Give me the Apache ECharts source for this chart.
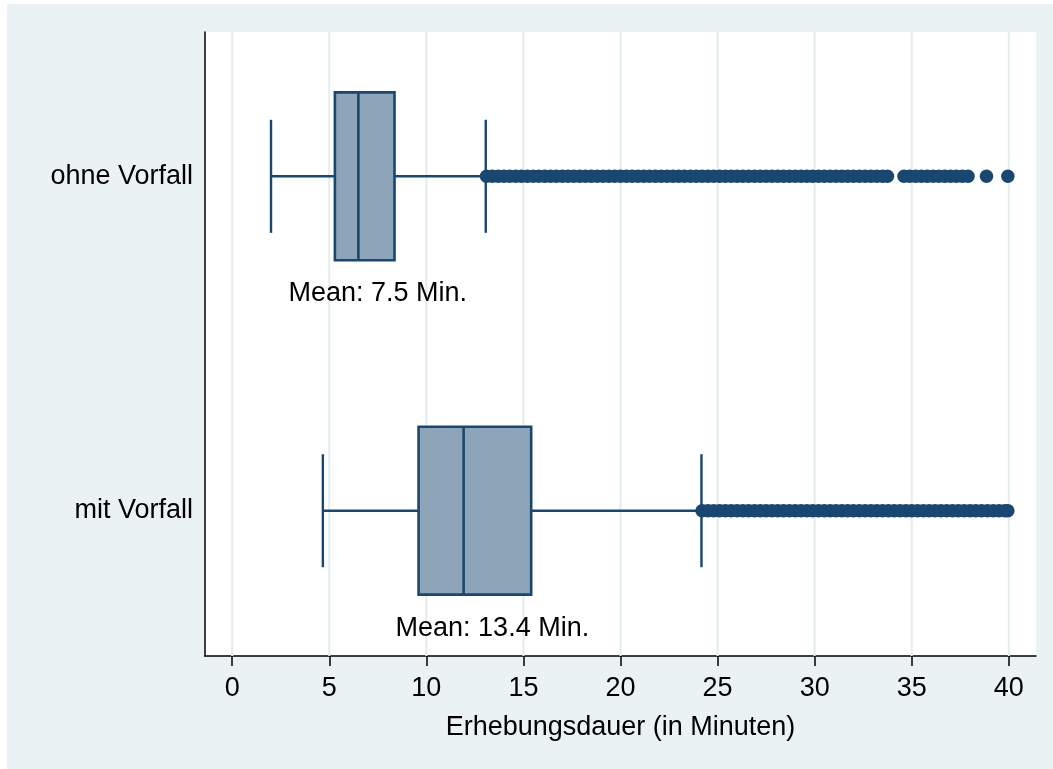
<!DOCTYPE html>
<html>
<head>
<meta charset="utf-8">
<script src="https://cdn.jsdelivr.net/npm/echarts@6/dist/echarts.min.js"></script>
<style>
  html, body { margin: 0; padding: 0; background: #ffffff; }
  #chart { position: absolute; left: 7px; top: 4px; width: 1046px; height: 765px; }
</style>
</head>
<body>
<div id="chart"></div>
<script>
// ---- data ----
const categories = ['mit Vorfall', 'ohne Vorfall'];   // y positions 1, 2
const catPos = [1, 2];
const whiskerLow  = [4.67, 2.0];
const q1          = [9.6, 5.29];
const median      = [11.92, 6.5];
const q3          = [15.4, 8.36];
const whiskerHigh = [24.17, 13.06];
const means       = [13.4, 7.5];
const meanLabels  = ['Mean: 13.4 Min.', 'Mean: 7.5 Min.'];
const xTicks = [0, 5, 10, 15, 20, 25, 30, 35, 40];
const xTitle = 'Erhebungsdauer (in Minuten)';

const ohneOutliers = [13.1, 13.4, 13.7, 14.0, 14.3, 14.6, 14.9, 15.2, 15.5, 15.8, 16.1, 16.4, 16.7, 17.0, 17.3, 17.6, 17.9, 18.2, 18.5, 18.8, 19.1, 19.4, 19.7, 20.0, 20.3, 20.6, 20.9, 21.2, 21.5, 21.8, 22.1, 22.4, 22.7, 23.0, 23.3, 23.6, 23.9, 24.2, 24.5, 24.8, 25.1, 25.4, 25.7, 26.0, 26.3, 26.6, 26.9, 27.2, 27.5, 27.8, 28.1, 28.4, 28.7, 29.0, 29.3, 29.6, 29.9, 30.2, 30.5, 30.8, 31.1, 31.4, 31.7, 32.0, 32.3, 32.6, 32.9, 33.2, 33.5, 33.75, 34.6, 34.9, 35.2, 35.5, 35.8, 36.1, 36.4, 36.7, 37.0, 37.3, 37.6, 37.9, 38.85, 39.95];
const mitOutliers = [24.2, 24.5, 24.8, 25.1, 25.4, 25.7, 26.0, 26.3, 26.6, 26.9, 27.2, 27.5, 27.8, 28.1, 28.4, 28.7, 29.0, 29.3, 29.6, 29.9, 30.2, 30.5, 30.8, 31.1, 31.4, 31.7, 32.0, 32.3, 32.6, 32.9, 33.2, 33.5, 33.8, 34.1, 34.4, 34.7, 35.0, 35.3, 35.6, 35.9, 36.2, 36.5, 36.8, 37.1, 37.4, 37.7, 38.0, 38.3, 38.6, 38.9, 39.2, 39.5, 39.8, 39.95];

// ---- build ----
const FONT = '"Liberation Sans", Arial, Helvetica, sans-serif';
const FS = 27;
const NAVY = '#1a476f';
const FILL = '#8ea4b8';

const boxData = catPos.map((p, i) => [p, whiskerLow[i], q1[i], median[i], q3[i], whiskerHigh[i], means[i], i]);
const outlierData = [];
ohneOutliers.forEach(v => outlierData.push([v, 2]));
mitOutliers.forEach(v => outlierData.push([v, 1]));
const gridData = xTicks.map(v => [v, 1.5]);

function renderGrid(params, api) {
  const p = api.coord([api.value(0), api.value(1)]);
  const cs = params.coordSys;
  return { type: 'line', shape: { x1: p[0], y1: cs.y, x2: p[0], y2: cs.y + cs.height },
    style: { stroke: '#e3edef', lineWidth: 2 }, silent: true };
}

function renderBox(params, api) {
  const y = api.value(0);
  const idx = api.value(7);
  const pWL = api.coord([api.value(1), y]);
  const pQ1 = api.coord([api.value(2), y]);
  const pMed = api.coord([api.value(3), y]);
  const pQ3 = api.coord([api.value(4), y]);
  const pWH = api.coord([api.value(5), y]);
  const halfBox = api.size([0, 0.251])[1];
  const halfCap = api.size([0, 0.169])[1];
  const pMeanLbl = api.coord([api.value(6), y - 0.352]);
  const cy = pQ1[1];
  const ls = { stroke: NAVY, lineWidth: 2.4 };
  return {
    type: 'group',
    children: [
      { type: 'line', shape: { x1: pWL[0], y1: cy, x2: pQ1[0], y2: cy }, style: ls },
      { type: 'line', shape: { x1: pQ3[0], y1: cy, x2: pWH[0], y2: cy }, style: ls },
      { type: 'line', shape: { x1: pWL[0], y1: cy - halfCap, x2: pWL[0], y2: cy + halfCap }, style: ls },
      { type: 'line', shape: { x1: pWH[0], y1: cy - halfCap, x2: pWH[0], y2: cy + halfCap }, style: ls },
      { type: 'rect', shape: { x: pQ1[0], y: cy - halfBox, width: pQ3[0] - pQ1[0], height: 2 * halfBox },
        style: { fill: FILL, stroke: NAVY, lineWidth: 2.6 } },
      { type: 'line', shape: { x1: pMed[0], y1: cy - halfBox, x2: pMed[0], y2: cy + halfBox },
        style: { stroke: NAVY, lineWidth: 2.6 } },
      { type: 'text', x: pMeanLbl[0], y: pMeanLbl[1],
        style: { text: meanLabels[idx], fill: '#000', font: FS + 'px ' + FONT, align: 'center', verticalAlign: 'middle' } }
    ]
  };
}

const chart = echarts.init(document.getElementById('chart'), null, { renderer: 'canvas' });
chart.setOption({
  backgroundColor: '#eaf2f3',
  animation: false,
  grid: { left: 198, top: 28, right: 17, bottom: 113, show: true, backgroundColor: '#ffffff', borderWidth: 0 },
  xAxis: {
    type: 'value', min: -1.4, max: 41.4,
    axisLine: { show: true, onZero: false, lineStyle: { color: '#000', width: 1.5 } },
    axisTick: { show: true, customValues: xTicks, length: 10, lineStyle: { color: '#000', width: 1.5 } },
    axisLabel: { customValues: xTicks, fontSize: FS, fontFamily: FONT, color: '#000', margin: 19 },
    splitLine: { show: false },
    name: xTitle, nameLocation: 'middle', nameGap: 58,
    nameTextStyle: { fontSize: FS, fontFamily: FONT, color: '#000' }
  },
  yAxis: {
    type: 'value', min: 0.5655, max: 2.4315,
    axisLine: { show: true, onZero: false, lineStyle: { color: '#000', width: 1.5 } },
    axisTick: { show: false },
    axisLabel: { customValues: catPos, fontSize: FS, fontFamily: FONT, color: '#000', margin: 12,
      padding: [5, 0, 0, 0],
      formatter: v => categories[catPos.indexOf(Math.round(v))] || '' },
    splitLine: { show: false }
  },
  series: [
    {
      type: 'custom', renderItem: renderGrid, data: gridData, z: 1, silent: true,
      encode: { x: 0, y: 1 }
    },
    {
      type: 'custom', renderItem: renderBox, data: boxData, z: 3,
      encode: { x: [1, 2, 3, 4, 5], y: 0 }
    },
    {
      type: 'scatter', data: outlierData, z: 4, symbol: 'circle', symbolSize: 13.5,
      itemStyle: { color: NAVY, opacity: 1 }
    }
  ]
});
</script>
</body>
</html>
